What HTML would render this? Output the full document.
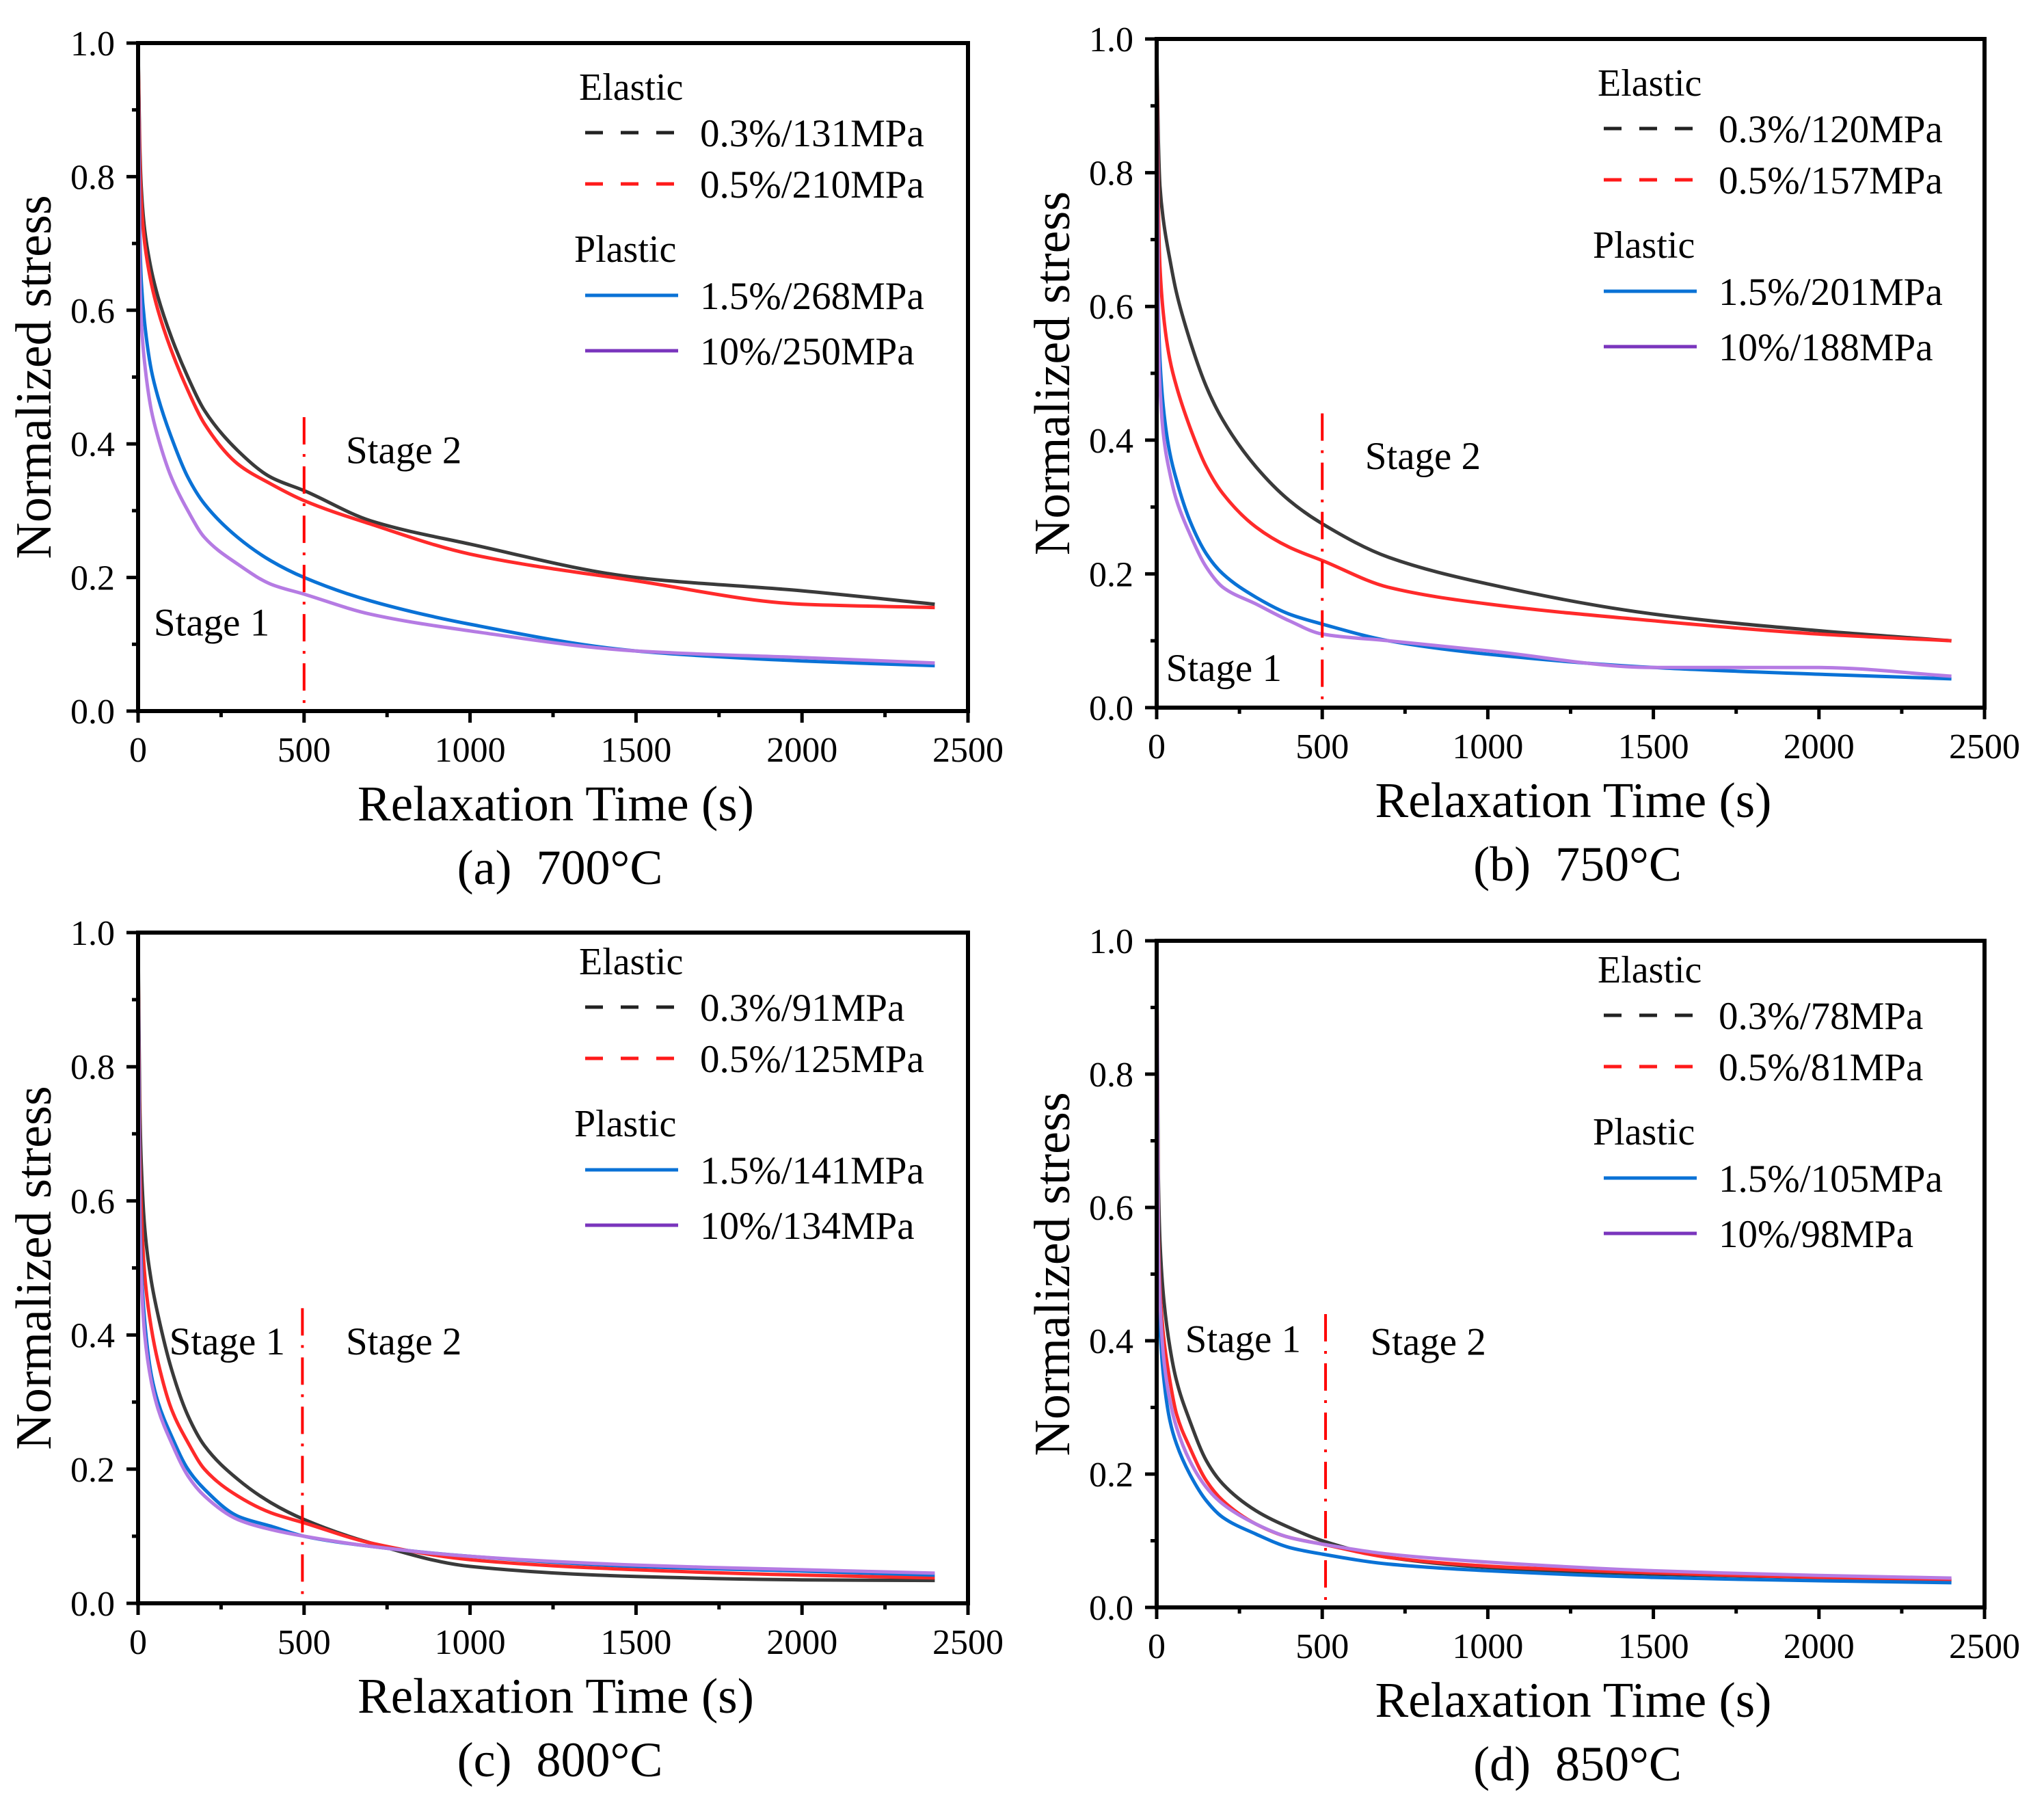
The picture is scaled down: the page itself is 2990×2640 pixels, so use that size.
<!DOCTYPE html>
<html><head><meta charset="utf-8">
<style>
html,body{margin:0;padding:0;background:#fff;}
svg{display:block;}
text{font-family:"Liberation Serif","Times New Roman",serif;fill:#000;}
</style></head>
<body>
<svg id="fig" xmlns="http://www.w3.org/2000/svg" width="2990" height="2640" viewBox="0 0 2990 2640"></svg>
<script>
// ---- shared data ----
const times = [0,5,10,20,40,60,100,150,200,300,400,500,700,1000,1500,2000,2400];
const xTicks = [0,500,1000,1500,2000,2500];
const yTicks = [0.0,0.2,0.4,0.6,0.8,1.0];
const yTickLabels = ["0.0","0.2","0.4","0.6","0.8","1.0"];

// panel a (700°C)
const a_e03 = [1.0,0.85,0.78,0.72,0.66,0.62,0.56,0.50,0.45,0.39,0.35,0.33,0.285,0.25,0.20,0.18,0.16];
const a_e05 = [1.0,0.83,0.76,0.70,0.64,0.60,0.54,0.48,0.43,0.37,0.34,0.315,0.28,0.235,0.195,0.16,0.155];
const a_p15 = [1.0,0.72,0.64,0.58,0.51,0.47,0.41,0.35,0.31,0.26,0.225,0.20,0.165,0.13,0.09,0.075,0.068];
const a_p10 = [1.0,0.66,0.58,0.52,0.45,0.41,0.35,0.30,0.26,0.22,0.19,0.175,0.145,0.12,0.09,0.08,0.072];
const a_labels = ["0.3%/131MPa","0.5%/210MPa","1.5%/268MPa","10%/250MPa"];
// panel b (750°C)
const b_e03 = [1.0,0.85,0.78,0.73,0.67,0.62,0.55,0.48,0.43,0.36,0.31,0.275,0.225,0.185,0.14,0.115,0.10];
const b_e05 = [1.0,0.75,0.66,0.59,0.52,0.48,0.42,0.36,0.32,0.27,0.24,0.22,0.18,0.155,0.13,0.11,0.10];
const b_p15 = [1.0,0.60,0.52,0.45,0.38,0.34,0.28,0.23,0.20,0.165,0.14,0.125,0.10,0.08,0.06,0.05,0.043];
const b_p10 = [1.0,0.56,0.48,0.41,0.35,0.31,0.26,0.21,0.18,0.155,0.13,0.11,0.10,0.085,0.06,0.06,0.047];
const b_labels = ["0.3%/120MPa","0.5%/157MPa","1.5%/201MPa","10%/188MPa"];
// panel c (800°C)
const c_e03 = [1.0,0.75,0.65,0.56,0.48,0.43,0.35,0.28,0.235,0.185,0.15,0.125,0.09,0.055,0.04,0.035,0.034];
const c_e05 = [1.0,0.68,0.58,0.49,0.41,0.36,0.29,0.24,0.20,0.16,0.135,0.12,0.09,0.065,0.05,0.042,0.038];
const c_p15 = [1.0,0.60,0.50,0.42,0.34,0.30,0.25,0.20,0.17,0.13,0.115,0.10,0.085,0.07,0.055,0.048,0.042];
const c_p10 = [1.0,0.57,0.48,0.40,0.33,0.29,0.24,0.19,0.16,0.125,0.11,0.10,0.085,0.07,0.057,0.05,0.045];
const c_labels = ["0.3%/91MPa","0.5%/125MPa","1.5%/141MPa","10%/134MPa"];
// panel d (850°C)
const d_e03 = [1.0,0.65,0.55,0.47,0.39,0.34,0.28,0.22,0.185,0.145,0.12,0.10,0.075,0.06,0.05,0.045,0.04];
const d_e05 = [1.0,0.57,0.48,0.41,0.34,0.29,0.24,0.19,0.16,0.125,0.105,0.095,0.075,0.062,0.052,0.045,0.042];
const d_p15 = [1.0,0.50,0.42,0.35,0.28,0.245,0.20,0.16,0.135,0.11,0.09,0.08,0.065,0.055,0.045,0.04,0.037];
const d_p10 = [1.0,0.55,0.46,0.38,0.31,0.27,0.22,0.18,0.155,0.125,0.105,0.095,0.08,0.068,0.055,0.048,0.044];
const d_labels = ["0.3%/78MPa","0.5%/81MPa","1.5%/105MPa","10%/98MPa"];

const captions = ["(a)\u00a0\u00a0700°C","(b)\u00a0\u00a0750°C","(c)\u00a0\u00a0800°C","(d)\u00a0\u00a0850°C"];
const stageLineX = [500,500,495,510];
const stage1Pos = [[47,0.113],[28,0.04],[94,0.371],[86,0.383]];
const stage2Pos = [[626,0.371],[629,0.357],[626,0.371],[645,0.379]];

const NS = "http://www.w3.org/2000/svg";
const svg = document.getElementById('fig');
function mk(tag, attrs, parent, txt){
  const e = document.createElementNS(NS, tag);
  for (const k in attrs) e.setAttribute(k, attrs[k]);
  if (txt !== undefined) e.textContent = txt;
  (parent||svg).appendChild(e);
  return e;
}
// monotone cubic path through screen points
function monoPath(xs, ys){
  const n = xs.length, d = [], m = new Array(n);
  for (let i = 0; i < n - 1; i++) d.push((ys[i+1]-ys[i])/(xs[i+1]-xs[i]));
  m[0] = d[0]; m[n-1] = d[n-2];
  for (let i = 1; i < n - 1; i++) {
    if (d[i-1]*d[i] <= 0) m[i] = 0;
    else { const w1 = 2*(xs[i+1]-xs[i]) + (xs[i]-xs[i-1]), w2 = (xs[i+1]-xs[i]) + 2*(xs[i]-xs[i-1]);
      m[i] = (w1 + w2) / (w1/d[i-1] + w2/d[i]); }
  }
  let p = 'M' + xs[0].toFixed(1) + ',' + ys[0].toFixed(1);
  for (let i = 0; i < n - 1; i++) {
    const h = xs[i+1] - xs[i];
    p += ' C' + (xs[i]+h/3).toFixed(1) + ',' + (ys[i]+m[i]*h/3).toFixed(1) + ' ' +
         (xs[i+1]-h/3).toFixed(1) + ',' + (ys[i+1]-m[i+1]*h/3).toFixed(1) + ' ' +
         xs[i+1].toFixed(1) + ',' + ys[i+1].toFixed(1);
  }
  return p;
}
const colors = ["#3a3a3a","#ff2a2a","#0a72d6","#b57be3"];
const legColors = ["#222","#ff1a1a","#0a72d6","#7a35bd"];

const panels = [
  {id:"a", x0:202, x1:1416, yTop:63, yBot:1040, s:[a_e03,a_e05,a_p15,a_p10], lab:a_labels, ld:0},
  {id:"b", x0:1692, x1:2903, yTop:57, yBot:1035, s:[b_e03,b_e05,b_p15,b_p10], lab:b_labels, ld:0},
  {id:"c", x0:202, x1:1416, yTop:1364, yBot:2345, s:[c_e03,c_e05,c_p15,c_p10], lab:c_labels, ld:-22},
  {id:"d", x0:1692, x1:2903, yTop:1376, yBot:2351, s:[d_e03,d_e05,d_p15,d_p10], lab:d_labels, ld:-22}
];

panels.forEach((p, pi) => {
  const g = mk('g', {});
  
  
  const X = v => p.x0 + (p.x1 - p.x0) * v / 2500;
  const Y = v => p.yBot - (p.yBot - p.yTop) * v;

  p.s.forEach((vals, si) => {
    const d = monoPath(times.map(X), vals.map(Y));
    const path = mk('path', {d:d, fill:'none', stroke:colors[si], 'stroke-width':5, 'stroke-linejoin':'round'}, g);
    
    
  });

  const sl = mk('line', {x1:X(stageLineX[pi]), x2:X(stageLineX[pi]), y1:Y(0.44), y2:Y(0), stroke:'#ff0000', 'stroke-width':4, 'stroke-dasharray':'40 14 4 14'}, g);
  
  
  const s1 = mk('text', {x:X(stage1Pos[pi][0]), y:Y(stage1Pos[pi][1]), 'font-size':57}, g, 'Stage 1');
  
  
  const s2 = mk('text', {x:X(stage2Pos[pi][0]), y:Y(stage2Pos[pi][1]), 'font-size':57}, g, 'Stage 2');
  
  

  const fr = mk('rect', {x:p.x0, y:p.yTop, width:p.x1 - p.x0, height:p.yBot - p.yTop, fill:'none', stroke:'#000', 'stroke-width':6}, g);
  
  

  xTicks.forEach(t => {
    mk('line', {x1:X(t), x2:X(t), y1:p.yBot, y2:p.yBot + 17, stroke:'#000', 'stroke-width':5}, g);
    const tl = mk('text', {x:X(t), y:p.yBot + 74, 'font-size':52, 'text-anchor':'middle'}, g, String(t));
    
    
  });
  for (let t = 250; t < 2500; t += 500) {
    mk('line', {x1:X(t), x2:X(t), y1:p.yBot, y2:p.yBot + 9, stroke:'#000', 'stroke-width':5}, g);
  }
  yTicks.forEach((v, i) => {
    mk('line', {x1:p.x0 - 17, x2:p.x0, y1:Y(v), y2:Y(v), stroke:'#000', 'stroke-width':5}, g);
    const tl = mk('text', {x:p.x0 - 34, y:Y(v) + 18, 'font-size':52, 'text-anchor':'end'}, g, yTickLabels[i]);
    
    
  });
  for (let v = 0.1; v < 1; v += 0.2) {
    mk('line', {x1:p.x0 - 9, x2:p.x0, y1:Y(v), y2:Y(v), stroke:'#000', 'stroke-width':5}, g);
  }

  const cx = (p.x0 + p.x1) / 2;
  const xt = mk('text', {x:cx + 4, y:p.yBot + 160, 'font-size':73, 'text-anchor':'middle'}, g, 'Relaxation Time (s)');
  
  
  const ycx = p.x0 - 128, ycy = (p.yTop + p.yBot) / 2;
  const yt = mk('text', {x:ycx, y:ycy, 'font-size':74, 'text-anchor':'middle', transform:'rotate(-90 ' + ycx + ' ' + ycy + ')'}, g, 'Normalized stress');
  
  
  const cap = mk('text', {x:cx + 10, y:p.yBot + 253, 'font-size':72, 'text-anchor':'middle'}, g, captions[pi]);
  
  

  const lx = p.x0, ly = p.yTop + p.ld;
  const leg = mk('g', {}, g);
  
  
  const el = mk('text', {x:lx + 645, y:ly + 83, 'font-size':56}, leg, 'Elastic');
  
  
  const pl = mk('text', {x:lx + 638, y:ly + 320, 'font-size':56}, leg, 'Plastic');
  
  
  const rowsY = [131, 206, 369, 450];
  p.lab.forEach((lab, si) => {
    const ry = ly + rowsY[si];
    const attrs = {x1:lx + 654, x2:lx + 790, y1:ry, y2:ry, stroke:legColors[si], 'stroke-width':5};
    if (si < 2) attrs['stroke-dasharray'] = '26 26';
    mk('line', attrs, leg);
    const t = mk('text', {x:lx + 822, y:ry + 20, 'font-size':57}, leg, lab);
    
    
  });
});
</script>
</body></html>
